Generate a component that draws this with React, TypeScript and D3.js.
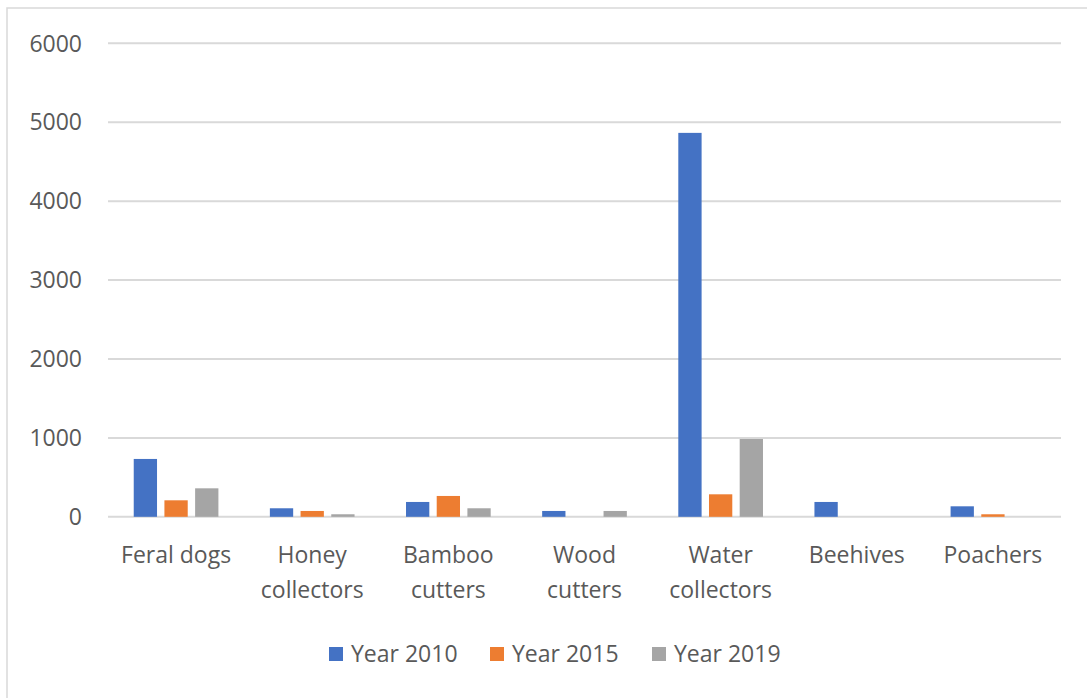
import React from "react";
import * as d3 from "d3";

const categories: string[][] = [
  ["Feral dogs"],
  ["Honey", "collectors"],
  ["Bamboo", "cutters"],
  ["Wood", "cutters"],
  ["Water", "collectors"],
  ["Beehives"],
  ["Poachers"],
];
const seriesNames = ["Year 2010", "Year 2015", "Year 2019"];
const year2010 = [733, 108, 188, 74, 4865, 188, 133];
const year2015 = [209, 74, 264, 0, 285, 0, 32];
const year2019 = [361, 32, 108, 74, 986, 0, 0];
const yTicks = [0, 1000, 2000, 3000, 4000, 5000, 6000];
const colors = ["#4472C4", "#ED7D31", "#A5A5A5"];

const W = 1087;
const H = 698;
const FONT = "'Open Sans', sans-serif";
const TXT = "#595959";

export default function App() {
  const series = [year2010, year2015, year2019];
  const left = 108;
  const right = 1061;
  const y0 = 516.8;
  const yTop = 43.3;
  const x0 = d3
    .scaleBand<number>()
    .domain(d3.range(categories.length))
    .range([left, right])
    .paddingInner(0.378)
    .paddingOuter(0.189);
  const x1 = d3
    .scaleBand<number>()
    .domain(d3.range(seriesNames.length))
    .range([0, x0.bandwidth()])
    .paddingInner(0.241);
  const y = d3.scaleLinear().domain([0, 6000]).range([y0, yTop]);

  const legendX = [329, 490, 652];

  return (
    <svg
      width={W}
      height={H}
      style={{ position: "absolute", left: 0, top: 0, background: "#fff" }}
      fontFamily={FONT}
    >
      <rect x={7} y={8} width={W + 20} height={H + 20} fill="#fff" stroke="#d9d9d9" strokeWidth={1.5} />
      {yTicks.map((t) => (
        <g key={t}>
          <line x1={left} x2={right} y1={y(t)} y2={y(t)} stroke="#d9d9d9" strokeWidth={2} />
          <text x={82} y={y(t)} dy="0.36em" textAnchor="end" fontSize={23} fill={TXT}>
            {t}
          </text>
        </g>
      ))}
      {categories.map((c, i) => (
        <g key={i}>
          {series.map((s, j) => {
            const v = s[i];
            if (v <= 0) return null;
            return (
              <rect
                key={j}
                x={(x0(i) as number) + (x1(j) as number)}
                y={y(v)}
                width={x1.bandwidth()}
                height={y0 - y(v)}
                fill={colors[j]}
              />
            );
          })}
          {c.map((line, k) => (
            <text
              key={k}
              x={(x0(i) as number) + x0.bandwidth() / 2}
              y={563 + k * 35}
              textAnchor="middle"
              fontSize={23}
              fill={TXT}
            >
              {line}
            </text>
          ))}
        </g>
      ))}
      {seriesNames.map((n, j) => (
        <g key={n}>
          <rect x={legendX[j]} y={647} width={14} height={14} fill={colors[j]} />
          <text x={legendX[j] + 22} y={662} fontSize={23} fill={TXT}>
            {n}
          </text>
        </g>
      ))}
    </svg>
  );
}
